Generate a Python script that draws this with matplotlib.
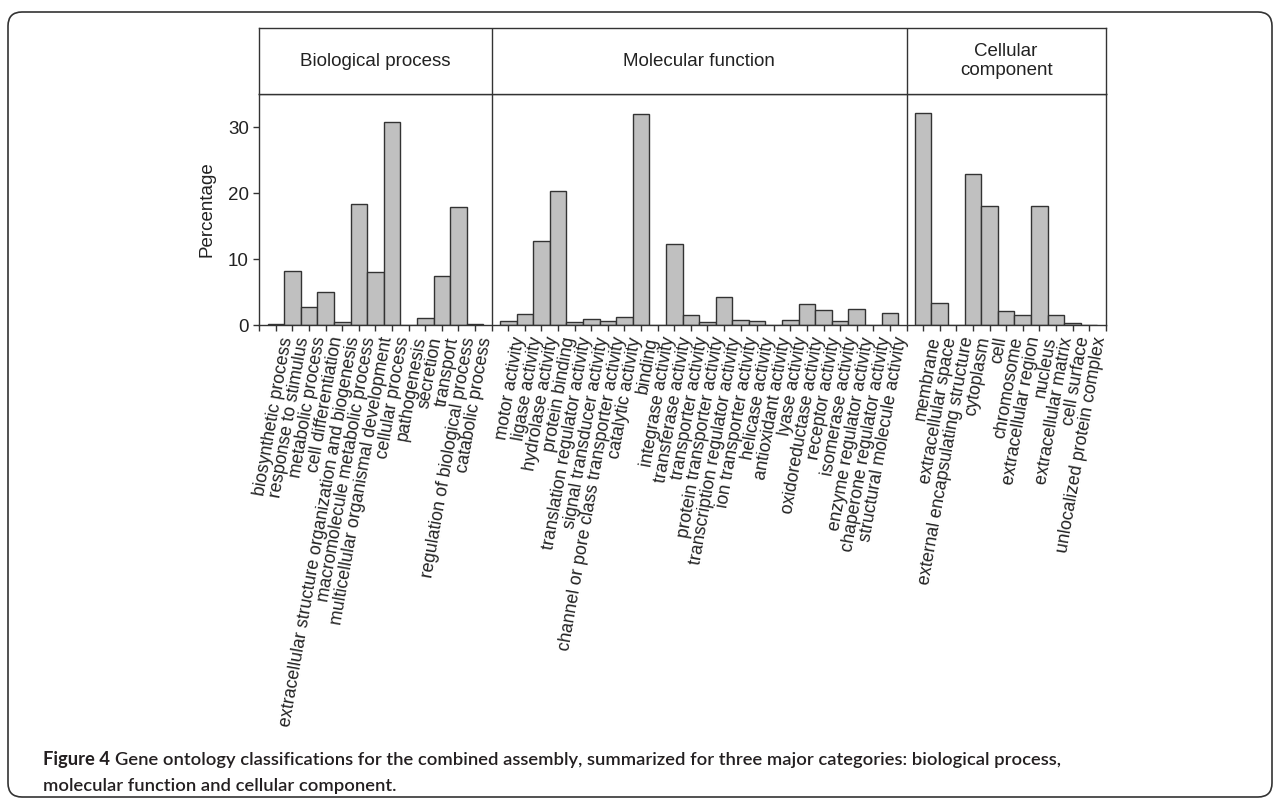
import numpy as np
import matplotlib
matplotlib.use("Agg")
import matplotlib.pyplot as plt
from matplotlib.patches import FancyBboxPatch

plt.rcParams['font.family'] = ['Liberation Sans', 'DejaVu Sans']

# data (percentages)
bp_labels = ['biosynthetic process', 'response to stimulus', 'metabolic process',
             'cell differentiation', 'extracellular structure organization and biogenesis',
             'macromolecule metabolic process', 'multicellular organismal development',
             'cellular process', 'pathogenesis', 'secretion', 'transport',
             'regulation of biological process', 'catabolic process']
bp_values = [0.15, 8.2, 2.8, 5.0, 0.4, 18.4, 8.1, 30.8, 0.0, 1.0, 7.5, 17.9, 0.15]

mf_labels = ['motor activity', 'ligase activity', 'hydrolase activity', 'protein binding',
             'translation regulator activity', 'signal transducer activity',
             'channel or pore class transporter activity', 'catalytic activity', 'binding',
             'integrase activity', 'transferase activity', 'transporter activity',
             'protein transporter activity', 'transcription regulator activity',
             'ion transporter activity', 'helicase activity', 'antioxidant activity',
             'lyase activity', 'oxidoreductase activity', 'receptor activity',
             'isomerase activity', 'enzyme regulator activity',
             'chaperone regulator activity', 'structural molecule activity']
mf_values = [0.55, 1.65, 12.8, 20.3, 0.4, 0.9, 0.55, 1.2, 31.9, 0.0, 12.3, 1.45,
             0.4, 4.2, 0.75, 0.6, 0.0, 0.7, 3.2, 2.3, 0.6, 2.45, 0.0, 1.85]

cc_labels = ['membrane', 'extracellular space', 'external encapsulating structure',
             'cytoplasm', 'cell', 'chromosome', 'extracellular region', 'nucleus',
             'extracellular matrix', 'cell surface', 'unlocalized protein complex']
cc_values = [32.1, 3.4, 0.0, 22.9, 18.0, 2.1, 1.55, 18.1, 1.55, 0.35, 0.0]

groups = ['Biological process', 'Molecular function', 'Cellular\ncomponent']
yticks = [0, 10, 20, 30]

caption_bold = 'Figure 4'
caption_rest = ('Gene ontology classifications for the combined assembly, summarized for '
                'three major categories: biological process,')
caption_line2 = 'molecular function and cellular component.'

W, H = 1282, 800
fig = plt.figure(figsize=(W / 100, H / 100), dpi=100)

# positions: one empty slot before each group and one at the end
sizes = [len(bp_labels), len(mf_labels), len(cc_labels)]
labels = bp_labels + mf_labels + cc_labels
values = bp_values + mf_values + cc_values
pos = []
bounds = [0]
start = 0
for n in sizes:
    pos += list(range(start + 1, start + n + 1))
    start += n + 1
    bounds.append(start)
total = start

x0, x1 = 259.3, 1105.7
ybot, ytop, yhead = 325, 94, 28
ax = fig.add_axes([x0 / W, 1 - ybot / H, (x1 - x0) / W, (ybot - ytop) / H])
axh = fig.add_axes([x0 / W, 1 - ytop / H, (x1 - x0) / W, (ytop - yhead) / H])

edge = '#333333'
txt = '#222222'
ax.bar(pos, values, width=1.0, color='#c0c0c0', edgecolor=edge, linewidth=1.0)
for b in bounds[1:-1]:
    ax.axvline(b, color=edge, lw=1.0)
ax.set_xlim(0, total)
ax.set_ylim(0, 35)
ax.set_yticks(yticks)
ax.set_xticks(range(0, total + 1))
ax.set_xticklabels([''] * (total + 1))
for p, lab in zip(pos, labels):
    ax.text(p + 0.2, -1.6, lab, rotation=80, ha='right', va='top',
            rotation_mode='anchor', fontsize=12.8, color=txt)
ax.tick_params(axis='both', direction='out', length=4, width=1.0, color=edge,
               labelsize=13.5, labelcolor=txt)
ax.set_ylabel('Percentage', fontsize=13.5, color=txt, labelpad=9)
for s in ax.spines.values():
    s.set_color(edge)
    s.set_linewidth(1.0)

axh.set_xlim(0, total)
axh.set_ylim(0, 1)
axh.set_xticks([])
axh.set_yticks([])
for s in axh.spines.values():
    s.set_color(edge)
    s.set_linewidth(1.0)
for b in bounds[1:-1]:
    axh.axvline(b, color=edge, lw=1.0)
for i, g in enumerate(groups):
    axh.text((bounds[i] + bounds[i + 1]) / 2, 0.5, g, ha='center', va='center',
             fontsize=13.5, color=txt, linespacing=1.1)

# rounded frame around the figure
frame = FancyBboxPatch((8, 3), W - 18, H - 15, boxstyle='round,pad=0,rounding_size=14',
                       transform=None, fill=False, edgecolor='#333333', lw=1.2)
fig.add_artist(frame)

t1 = fig.text(43 / W, 1 - 760 / H, caption_bold, fontsize=13.2, fontweight='bold',
              family='Lato', color='#231f20', va='center', ha='left')
fig.canvas.draw()
bb = t1.get_window_extent()
fig.text((bb.x1 + 5) / W, 1 - 760 / H, caption_rest, fontsize=13.2, fontweight='semibold',
         family='Lato', color='#231f20', va='center', ha='left')
fig.text(43 / W, 1 - 786 / H, caption_line2, fontsize=13.2, fontweight='semibold',
         family='Lato', color='#231f20', va='center', ha='left')

fig.savefig('out.png', dpi=100)
